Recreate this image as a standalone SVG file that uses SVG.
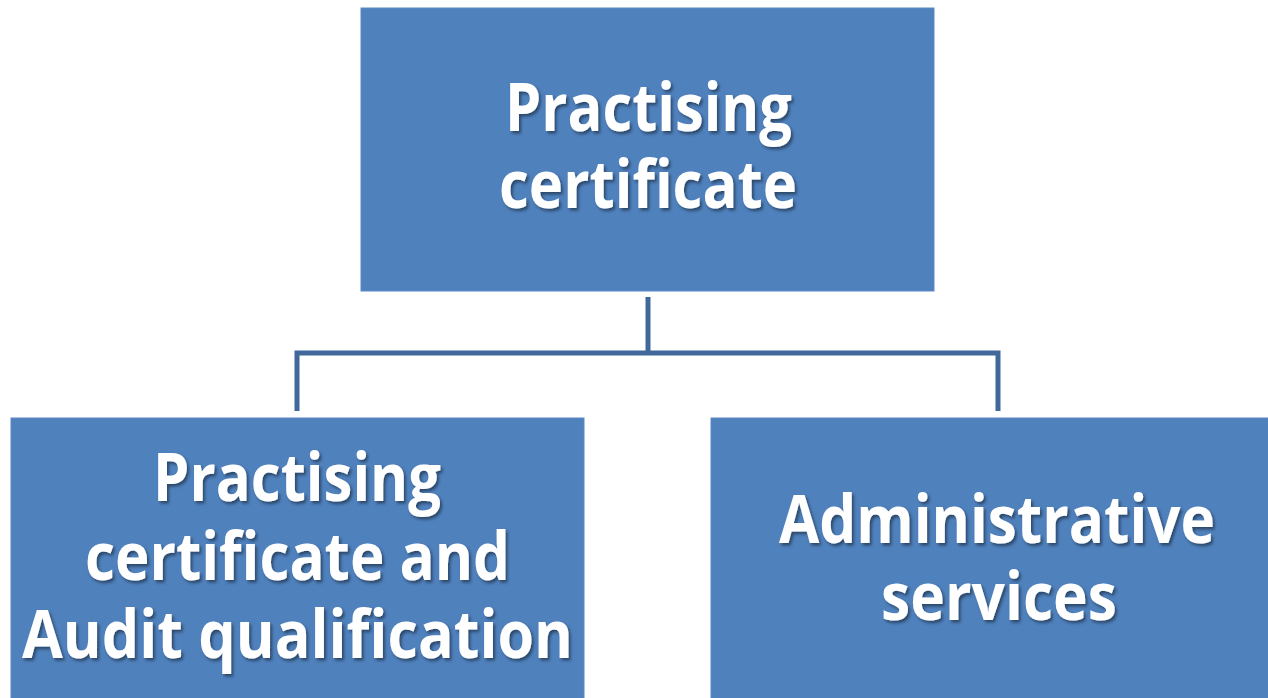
<svg xmlns="http://www.w3.org/2000/svg" width="1268" height="698" viewBox="0 0 1268 698">
<style>
.box{fill:#4F81BD;stroke:#5B8AC4;stroke-width:1}
.lbl{font-family:"Open Sans","Liberation Sans",sans-serif;font-weight:bold;font-size:66px;fill:#FFFFFF;text-anchor:middle;filter:url(#sh)}
.conn{fill:none;stroke:#41689A;stroke-width:5;stroke-linejoin:miter}
</style>
<defs>
<filter id="sh" x="-10%" y="-30%" width="120%" height="160%">
<feDropShadow dx="2" dy="2.5" stdDeviation="1.5" flood-color="#000000" flood-opacity="0.45"/>
</filter>
</defs>
<rect width="1268" height="698" fill="#FFFFFF"/>
<g id="connectors">
<path class="conn" d="M648 297 V353"/>
<path class="conn" d="M297 411 V353 H998 V411"/>
</g>
<g id="node-top">
<rect class="box" x="361" y="8" width="573" height="283"/>
<text class="lbl" x="648.5" y="131" textLength="287" lengthAdjust="spacingAndGlyphs">Practising</text>
<text class="lbl" x="648" y="208" textLength="298" lengthAdjust="spacingAndGlyphs">certificate</text>
</g>
<g id="node-left">
<rect class="box" x="11" y="418" width="573" height="290"/>
<text class="lbl" x="297" y="501" textLength="288" lengthAdjust="spacingAndGlyphs">Practising</text>
<text class="lbl" x="297.5" y="580" textLength="425" lengthAdjust="spacingAndGlyphs">certificate and</text>
<text class="lbl" x="297.5" y="658" textLength="551" lengthAdjust="spacingAndGlyphs">Audit qualification</text>
</g>
<g id="node-right">
<rect class="box" x="711" y="418" width="573" height="290"/>
<text class="lbl" x="997" y="543" textLength="436" lengthAdjust="spacingAndGlyphs">Administrative</text>
<text class="lbl" x="999" y="620" textLength="236" lengthAdjust="spacingAndGlyphs">services</text>
</g>
</svg>
